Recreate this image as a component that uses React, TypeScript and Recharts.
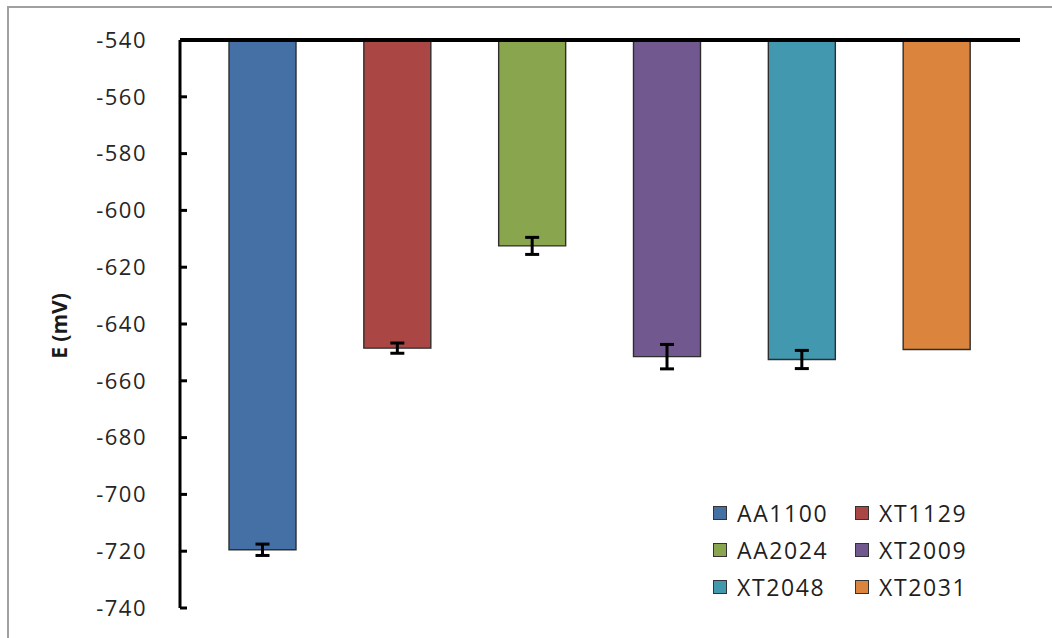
import React from 'react';
import { BarChart, Bar, XAxis, YAxis, Cell, ErrorBar, Legend } from 'recharts';

// Corrosion potential per alloy
const alloys = ['AA1100', 'XT1129', 'AA2024', 'XT2009', 'XT2048', 'XT2031'];
const potentials = [-719.5, -648.5, -612.5, -651.5, -652.5, -649];
const deviations: (number | null)[] = [2, 1.8, 3, 4.3, 3.2, null];
const colors = ['#4470A6', '#AA4643', '#89A54E', '#71588F', '#4198AF', '#DB843D'];
const yTicks = [-540, -560, -580, -600, -620, -640, -660, -680, -700, -720, -740];

const data = alloys.map((name, i) => ({
  name,
  value: potentials[i],
  err: deviations[i],
}));

const FONT = '"Open Sans", sans-serif';

const legendRows = [
  [0, 1],
  [2, 3],
  [4, 5],
];

const LegendBox = () => (
  <div style={{ fontFamily: FONT, fontSize: 23, letterSpacing: 1.6, color: '#1f1f1f' }}>
    {legendRows.map((row, r) => (
      <div key={r} style={{ display: 'flex', height: 37, alignItems: 'center' }}>
        {row.map((idx) => (
          <div key={idx} style={{ display: 'flex', alignItems: 'center', width: 142 }}>
            <span
              style={{
                display: 'inline-block',
                width: 12,
                height: 12,
                background: colors[idx],
                border: '1.5px solid #333',
                marginRight: 10,
              }}
            />
            <span>{alloys[idx]}</span>
          </div>
        ))}
      </div>
    ))}
  </div>
);

const AxisTitle = () => (
  <text
    x={59}
    y={326}
    transform="rotate(-90 59 326)"
    textAnchor="middle"
    dominantBaseline="central"
    fontFamily={FONT}
    fontSize={21}
    fontWeight="bold"
    fill="#1a1a1a"
  >
    E (mV)
  </text>
);

export default function App() {
  return (
    <div style={{ position: 'absolute', left: 0, top: 0, width: 1052, height: 638, background: '#fff' }}>
      <div
        style={{
          position: 'absolute',
          left: 7,
          top: 6,
          width: 1060,
          height: 660,
          borderLeft: '2px solid #a0a0a0',
          borderTop: '2px solid #a0a0a0',
        }}
      />
      <BarChart
        width={1052}
        height={638}
        data={data}
        margin={{ top: 39, right: 32, bottom: 30, left: 0 }}
        barCategoryGap="25%"
        style={{ position: 'absolute', left: 0, top: 0 }}
      >
        <XAxis
          dataKey="name"
          orientation="top"
          height={1}
          tick={false}
          tickLine={false}
          axisLine={{ stroke: '#000', strokeWidth: 4 }}
          padding={{ left: 15, right: 16 }}
        />
        <YAxis
          width={180}
          domain={[-740, -540]}
          ticks={yTicks}
          allowDataOverflow
          interval={0}
          tickSize={-7}
          tickMargin={40}
          tickLine={{ stroke: '#000', strokeWidth: 3 }}
          axisLine={{ stroke: '#000', strokeWidth: 3 }}
          tick={{ fontFamily: FONT, fontSize: 22, letterSpacing: 1.5, fill: '#262626' }}
          label={<AxisTitle />}
        />
        <Bar dataKey="value" barSize={67} stroke="#2e2e2e" strokeWidth={1.4} isAnimationActive={false}>
          {data.map((d, i) => (
            <Cell key={d.name} fill={colors[i]} />
          ))}
          <ErrorBar dataKey="err" width={7} strokeWidth={3} stroke="#000" direction="y" />
        </Bar>
        <Legend
          content={<LegendBox />}
          wrapperStyle={{
            position: 'absolute',
            left: 713,
            top: 494,
            width: 320,
            height: 0,
            overflow: 'visible',
            bottom: 'auto',
          }}
        />
      </BarChart>
    </div>
  );
}
